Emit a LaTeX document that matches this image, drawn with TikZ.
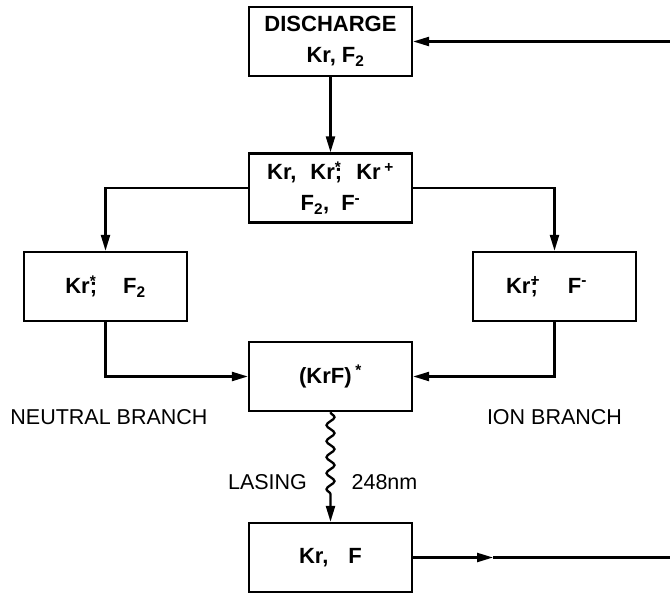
\documentclass[tikz,border=0pt]{standalone}
\usepackage{fontspec}
\setmainfont{Liberation Sans}
\usetikzlibrary{arrows.meta,decorations.pathmorphing}

\begin{document}
\begin{tikzpicture}[x=1pt, y=-1pt, line width=2.3pt,
  box/.style={draw, minimum width=163pt, minimum height=69pt, inner sep=0pt, align=center, font=\fontsize{22}{31}\selectfont\bfseries},
  lbl/.style={font=\fontsize{21.5}{25}\selectfont},
  arr/.style={-{Triangle[length=16pt,width=9pt]}}]
  \useasboundingbox (0,0) rectangle (670,594);
  \node[box] (discharge) at (330.5,41.5) {DISCHARGE\\\hspace*{10pt}Kr, F\textsubscript{2}};
  \node[box] (mix) at (330.5,188) {Kr,\hspace{14pt}Kr\rlap{\textsuperscript{*}};\hspace{14pt}Kr\,\textsuperscript{+}\\F\textsubscript{2},\hspace{12pt}F\textsuperscript{-}};
  \node[box] (neutral) at (105.5,286.5) {Kr\rlap{\textsuperscript{*}};\hspace{26pt}F\textsubscript{2}};
  \node[box] (ion) at (554.5,286.5) {Kr\rlap{\textsuperscript{+}};\hspace{30pt}F\textsuperscript{-}\hspace*{16pt}};
  \node[box] (krfstar) at (330.5,376.5) {(KrF)\,\textsuperscript{*}};
  \node[box] (krf) at (330.5,557.5) {Kr,\hspace{20pt}F};
  \node[lbl] (nlabel) at (109,417.5) {NEUTRAL BRANCH};
  \node[lbl] (ilabel) at (554.5,417.5) {ION BRANCH};
  \node[lbl] (lasing) at (267.5,482) {LASING};
  \node[lbl] (wavelength) at (384.5,482) {248nm};
  \coordinate (feedin) at (670,41.5);
  \coordinate (outtip) at (493,557.5);
  \coordinate (feedout) at (670,557.5);
  % flow
  \draw[arr] (feedin) -- (discharge);
  \draw[arr] (discharge) -- (mix);
  \draw[arr] (mix.west) -| (neutral.north);
  \draw[arr] (mix.east) -| (ion.north);
  \draw[arr] (neutral.south) |- (krfstar.west);
  \draw[arr] (ion.south) |- (krfstar.east);
  \draw[arr, decorate, decoration={snake, amplitude=4pt, segment length=16pt, post length=22pt}] (krfstar.south) -- (krf.north);
  \draw[arr] (krf.east) -- (outtip);
  \draw (outtip) -- (feedout);
\end{tikzpicture}
\end{document}
